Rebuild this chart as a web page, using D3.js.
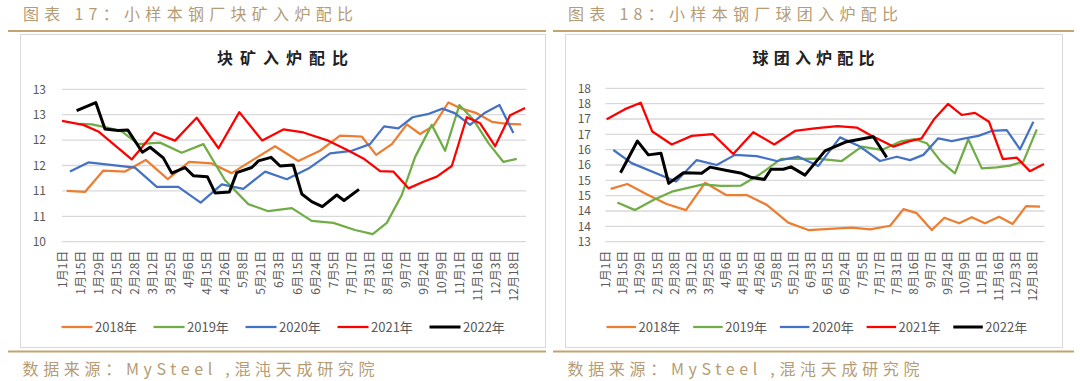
<!DOCTYPE html>
<html><head><meta charset="utf-8">
<script src="https://cdn.jsdelivr.net/npm/d3@7/dist/d3.min.js"></script>
<style>
html,body{margin:0;padding:0;background:#fff;}
svg{display:block;}
text{font-family:"Noto Sans CJK SC","Noto Sans",sans-serif;}
</style></head>
<body>
<svg id="chart" width="1080" height="381"></svg>
<script>
// ---------- data ----------
const xLabels = ["1月1日","1月15日","1月29日","2月15日","2月28日","3月12日","3月25日","4月6日","4月15日","4月26日","5月8日","5月21日","6月3日","6月15日","6月24日","7月5日","7月17日","7月31日","8月16日","9月7日","9月24日","10月9日","11月1日","11月16日","12月3日","12月18日"];
const years = ["2018年","2019年","2020年","2021年","2022年"];
const colors = ["#ED7D31","#70AD47","#4472C4","#FF0000","#000000"];

const headerTitles = ["图表 17：小样本钢厂块矿入炉配比","图表 18：小样本钢厂球团入炉配比"];
const chartTitles = ["块矿入炉配比","球团入炉配比"];
const sourceText = "数据来源：MySteel ,混沌天成研究院";

const lumpTicks = [10,10.5,11,11.5,12,12.5,13];
const lumpTickLabels = ["10","11","11","12","12","13","13"];
const pelletTicks = [13,13.5,14,14.5,15,15.5,16,16.5,17,17.5,18];
const pelletTickLabels = ["13","14","14","15","15","16","16","17","17","18","18"];

// [position on the date axis (label units), value]
const lump2018 = [[0.26,11.00],[1.27,10.98],[2.29,11.40],[3.49,11.38],[4.64,11.61],[5.86,11.23],[7.04,11.57],[8.29,11.54],[9.40,11.35],[11.80,11.88],[13.09,11.59],[14.29,11.79],[15.40,12.09],[16.60,12.07],[17.40,11.71],[18.27,11.92],[19.10,12.31],[19.83,12.12],[20.57,12.28],[21.40,12.74],[22.05,12.63],[22.97,12.53],[23.81,12.36],[24.64,12.32],[25.43,12.31]];
const lump2019 = [[1.00,12.32],[1.65,12.31],[2.57,12.24],[3.31,12.17],[4.23,11.92],[5.43,11.95],[6.63,11.75],[7.83,11.92],[9.03,11.21],[10.32,10.74],[11.43,10.60],[12.73,10.66],[13.83,10.41],[15.03,10.37],[16.23,10.23],[17.21,10.15],[17.99,10.37],[18.82,10.92],[19.56,11.67],[20.48,12.30],[21.22,11.79],[22.01,12.69],[22.79,12.40],[23.62,11.94],[24.45,11.57],[25.19,11.63]];
const lump2020 = [[0.44,11.38],[1.46,11.56],[4.04,11.46],[5.25,11.08],[6.44,11.08],[7.68,10.77],[8.85,11.13],[10.04,11.04],[11.25,11.38],[12.45,11.23],[13.65,11.44],[14.85,11.74],[16.05,11.79],[17.06,11.92],[17.84,12.27],[18.63,12.23],[19.42,12.45],[20.25,12.51],[21.08,12.62],[21.75,12.53],[22.60,12.30],[23.43,12.54],[24.23,12.69],[25.00,12.14]];
const lump2021 = [[0.00,12.38],[1.18,12.30],[2.01,12.17],[3.86,11.62],[5.11,12.15],[6.26,11.99],[7.46,12.44],[8.67,11.84],[9.82,12.55],[11.09,11.99],[12.26,12.21],[13.37,12.15],[14.66,12.00],[15.77,11.81],[16.69,11.64],[17.62,11.39],[18.35,11.38],[19.19,11.05],[20.02,11.18],[20.76,11.28],[21.59,11.49],[22.42,12.45],[23.16,12.33],[23.99,11.88],[24.82,12.49],[25.65,12.63]];
const lump2022 = [[0.81,12.58],[1.87,12.74],[2.38,12.22],[3.12,12.19],[3.64,12.20],[4.45,11.76],[4.88,11.86],[5.61,11.65],[6.08,11.35],[6.81,11.46],[7.27,11.30],[8.05,11.28],[8.48,10.96],[9.27,10.98],[9.68,11.36],[10.51,11.46],[10.88,11.59],[11.58,11.66],[12.08,11.49],[12.81,11.51],[13.28,10.94],[13.83,10.79],[14.42,10.69],[15.22,10.92],[15.62,10.81],[16.45,11.03]];

const pellet2018 = [[0.30,14.72],[1.28,14.88],[2.41,14.55],[3.58,14.23],[4.71,14.03],[5.83,14.92],[7.06,14.52],[8.27,14.52],[9.44,14.20],[10.70,13.62],[11.87,13.38],[14.41,13.46],[15.49,13.40],[16.66,13.52],[17.44,14.06],[18.22,13.93],[19.10,13.38],[19.84,13.78],[20.70,13.60],[21.44,13.80],[22.22,13.60],[23.04,13.81],[23.84,13.58],[24.62,14.16],[25.44,14.14]];
const pellet2019 = [[0.69,14.28],[1.73,14.03],[2.80,14.36],[3.88,14.63],[5.71,14.87],[6.74,14.82],[7.93,14.83],[9.05,15.20],[10.28,15.70],[11.39,15.70],[12.37,15.71],[13.83,15.63],[15.00,16.10],[16.17,15.99],[17.34,16.28],[18.12,16.34],[18.81,16.21],[19.64,15.61],[20.46,15.23],[21.24,16.34],[22.03,15.39],[22.90,15.42],[23.68,15.48],[24.46,15.61],[25.25,16.66]];
const pellet2020 = [[0.46,15.99],[1.53,15.56],[4.13,14.96],[5.34,15.66],[6.51,15.50],[7.58,15.83],[8.85,15.79],[10.02,15.63],[11.29,15.77],[12.46,15.47],[13.73,16.40],[14.90,16.10],[16.07,15.63],[17.05,15.77],[17.83,15.66],[18.61,15.83],[19.48,16.37],[20.27,16.28],[21.05,16.37],[21.83,16.45],[22.61,16.61],[23.49,16.64],[24.27,16.01],[25.05,16.91]];
const pellet2021 = [[0.07,16.99],[1.14,17.32],[2.06,17.53],[2.74,16.59],[3.88,16.17],[5.05,16.45],[6.28,16.51],[7.48,15.86],[8.65,16.57],[9.88,16.17],[11.09,16.61],[12.37,16.70],[13.58,16.77],[14.71,16.72],[15.49,16.48],[16.85,16.10],[17.71,16.26],[18.50,16.37],[19.23,16.99],[20.05,17.49],[20.85,17.13],[21.63,17.20],[22.45,16.91],[23.26,15.69],[24.07,15.74],[24.84,15.30],[25.67,15.53]];
const pellet2022 = [[0.88,15.25],[1.87,16.28],[2.51,15.83],[3.25,15.88],[3.70,14.90],[4.56,15.25],[5.63,15.23],[6.12,15.43],[7.10,15.32],[7.97,15.23],[8.56,15.09],[9.30,15.03],[9.69,15.36],[10.41,15.36],[10.86,15.44],[11.68,15.17],[12.85,15.96],[14.12,16.26],[15.68,16.42],[16.46,15.75]];

const lumpSeries = [lump2018,lump2019,lump2020,lump2021,lump2022];
const pelletSeries = [pellet2018,pellet2019,pellet2020,pellet2021,pellet2022];

// ---------- drawing ----------
const svg = d3.select("#chart");
const tan = "#B59C74";
const rule = "#C4A46E";

const panels = [
  {ox:0, box:[20,34,545,347], plot:[62,526], yr:[241.7,89.3], ydom:[10,13], ticks:lumpTicks, tickLabels:lumpTickLabels, series:lumpSeries,
   header:headerTitles[0], title:chartTitles[0], titleCx:282.5, titleLen:131, ylabX:46, legX:61.5, legStep:92, legLine:31, rules:[8,546]},
  {ox:0, box:[565,34,1062,347], plot:[605.5,1044.5], yr:[241.7,88.3], ydom:[13,18], ticks:pelletTicks, tickLabels:pelletTickLabels, series:pelletSeries,
   header:headerTitles[1], title:chartTitles[1], titleCx:813.5, titleLen:122, ylabX:591, legX:606.5, legStep:86.7, legLine:29.5, rules:[553,1074]}
];

panels.forEach((p,pi)=>{
  const g = svg.append("g");
  // header
  g.append("text").attr("x", p.box[0]+3).attr("y",19.5)
    .attr("font-size",16).attr("fill",tan)
    .attr("textLength",330).attr("lengthAdjust","spacing")
    .text(p.header);
  g.append("line").attr("x1",p.rules[0]).attr("x2",p.rules[1]).attr("y1",31).attr("y2",31)
    .attr("stroke",rule).attr("stroke-width",2);
  // box
  g.append("rect").attr("x",p.box[0]+0.5).attr("y",p.box[1]+0.5)
    .attr("width",p.box[2]-p.box[0]).attr("height",p.box[3]-p.box[1])
    .attr("fill","#fff").attr("stroke","#D9D9D9").attr("stroke-width",1);
  // bottom rule & source
  g.append("line").attr("x1",p.rules[0]).attr("x2",p.rules[1]).attr("y1",351.5).attr("y2",351.5)
    .attr("stroke",rule).attr("stroke-width",2);
  g.append("text").attr("x", p.box[0]+2.5).attr("y",375)
    .attr("font-size",16).attr("fill",tan)
    .attr("textLength",352).attr("lengthAdjust","spacing")
    .text(sourceText);
  // chart title
  g.append("text").attr("x",p.titleCx).attr("y",64).attr("text-anchor","middle")
    .attr("font-size",16).attr("font-weight","bold").attr("fill","#222")
    .attr("textLength",p.titleLen).attr("lengthAdjust","spacing")
    .text(p.title);

  const x = d3.scaleLinear().domain([0,25.7]).range(p.plot);
  const y = d3.scaleLinear().domain(p.ydom).range(p.yr);

  // gridlines
  g.append("g").selectAll("line").data(p.ticks).join("line")
    .attr("x1",p.plot[0]).attr("x2",p.plot[1])
    .attr("y1",d=>y(d)).attr("y2",d=>y(d))
    .attr("stroke","#D9D9D9").attr("stroke-width",1.3);

  // y axis
  const yAxis = d3.axisLeft(y).tickValues(p.ticks).tickSize(0).tickPadding(0)
    .tickFormat((d,i)=>p.tickLabels[i]);
  const ya = g.append("g").attr("transform",`translate(${p.ylabX},0)`).call(yAxis);
  ya.select(".domain").remove();
  ya.selectAll("text").attr("font-size",12).attr("fill","#595959")
    .attr("font-family",'"Noto Sans CJK SC","Noto Sans",sans-serif');

  // x axis labels
  const xAxis = d3.axisBottom(x).tickValues(d3.range(xLabels.length)).tickSize(0)
    .tickFormat((d,i)=>xLabels[i]);
  const xa = g.append("g").attr("transform",`translate(0,${p.yr[0]})`).call(xAxis);
  xa.select(".domain").remove();
  xa.selectAll("text")
    .attr("font-size",12).attr("fill","#595959")
    .attr("font-family",'"Noto Sans CJK SC","Noto Sans",sans-serif')
    .attr("transform","rotate(-90)")
    .attr("text-anchor","end")
    .attr("x",-9).attr("y",0).attr("dy","0.36em");

  // lines
  const line = d3.line().x(d=>x(d[0])).y(d=>y(d[1]));
  p.series.forEach((s,i)=>{
    g.append("path").datum(s).attr("d",line).attr("fill","none")
      .attr("stroke",colors[i]).attr("stroke-width", i===4?3:2.25)
      .attr("stroke-linejoin","round");
  });

  // legend
  const leg = g.append("g").attr("transform","translate(0,327)");
  years.forEach((yy,i)=>{
    const lx = p.legX + i*p.legStep;
    leg.append("line").attr("x1",lx).attr("x2",lx+p.legLine).attr("y1",0).attr("y2",0)
      .attr("stroke",colors[i]).attr("stroke-width",i===4?3:2.25);
    leg.append("text").attr("x",lx+p.legLine+2.5).attr("y",0).attr("dy","0.35em")
      .attr("font-size",13).attr("fill","#595959").text(yy);
  });
});
</script>
</body></html>
